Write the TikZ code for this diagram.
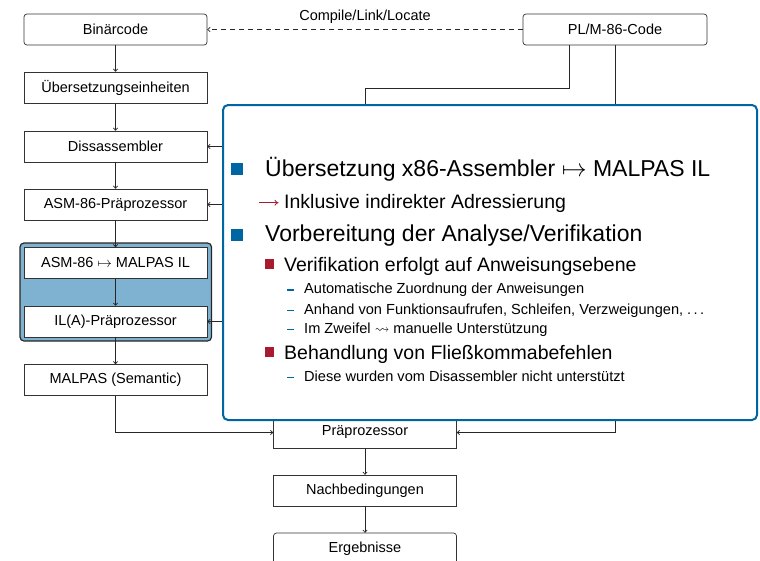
\documentclass[tikz,border=0pt]{standalone}
\usepackage{fontspec}
\setmainfont{Liberation Sans}
\usepackage{amssymb}
\usetikzlibrary{arrows.meta}
\definecolor{tublue}{RGB}{0,101,163}
\definecolor{tured}{RGB}{168,26,48}
\definecolor{grpfill}{RGB}{127,178,209}
\newcommand\fa{\fontsize{23}{27}\selectfont}
\newcommand\fb{\fontsize{19.5}{23}\selectfont}
\newcommand\fc{\fontsize{14.6}{18}\selectfont}
\tikzset{
  flow/.style={draw=black!80, line width=0.7pt, minimum width=183pt, minimum height=31pt,
    inner sep=0pt, font=\fontsize{14.5}{16}\selectfont, fill=white},
  flowr/.style={flow, rounded corners=3pt},
  conn/.style={draw=black!85, line width=0.7pt},
  arr/.style={conn, -{To[length=3pt,width=5pt]}},
  txt/.style={anchor=base west, inner sep=0pt},
  bluesq/.style={fill=tublue},
  redsq/.style={fill=tured},
}
\begin{document}
\begin{tikzpicture}[x=1pt,y=-1pt]
\useasboundingbox (0,0) rectangle (760,560);
\clip (0,0) rectangle (760,560);
% group
\draw[fill=grpfill, draw=black!85, line width=1.2pt, rounded corners=4pt] (20,243) rectangle (211.5,341);
% left column
\node[flowr] (bin)  at (115.5,29.5) {Binärcode};
\node[flow]  (ueb)  at (115.5,87.5) {Übersetzungseinheiten};
\node[flow]  (dis)  at (115.5,146.5) {Dissassembler};
\node[flow]  (asmp) at (115.5,204.5) {ASM-86-Präprozessor};
\node[flow]  (asmm) at (115.5,263) {ASM-86 $\mapsto$ MALPAS IL};
\node[flow]  (ila)  at (115.5,321.5) {IL(A)-Präprozessor};
\node[flow]  (mal)  at (115.5,380) {MALPAS (Semantic)};
% right / bottom
\node[flowr, minimum width=184pt] (plm) at (615,29.5) {PL/M-86-Code};
\node[flow]  (pre)  at (365,432.5) {Präprozessor};
\node[flow]  (nach) at (365,490.5) {Nachbedingungen};
\node[flowr] (erg)  at (365,548.5) {Ergebnisse};
% chain
\draw[arr] (bin) -- (ueb);
\draw[arr] (ueb) -- (dis);
\draw[arr] (dis) -- (asmp);
\draw[arr] (asmp) -- (asmm);
\draw[arr] (asmm) -- (ila);
\draw[arr] (ila) -- (mal);
\draw[arr] (mal.south) |- (pre.west);
\draw[arr] (pre) -- (nach);
\draw[arr] (nach) -- (erg);
% compile
\draw[arr, dash pattern=on 5pt off 4pt] (plm.west) -- (bin.east)
  node[midway, above=2pt, font=\fontsize{14.5}{16}\selectfont] (cll) {Compile/Link/Locate};
% PL/M branches
\coordinate (j1) at (569,88);
\coordinate (j2) at (365,88);
\coordinate (j3) at (365,321.5);
\draw[conn] (plm.south -| j1) -- (j1) -- (j2) -- (j3);
\draw[arr] (j2 |- dis) -- (dis.east);
\draw[arr] (j2 |- asmp) -- (asmp.east);
\draw[arr] (j3) -- (ila.east);
\draw[arr] (plm.south) |- (pre.east);
% info box
\draw[draw=tublue, line width=2pt, fill=white, rounded corners=5pt] (223,105) rectangle (757,420);
\fill[bluesq] (230.5,162.5) rectangle (242.5,175);
\node[txt, font=\fa] (t1) at (265,176) {Übersetzung x86-Assembler $\mapsto$ MALPAS IL};
\draw[tured, line width=0.8pt, -{To[length=4pt,width=6pt]}] (259,202.7) -- (278.5,202.7);
\node[txt, font=\fb] (t2) at (284,208) {Inklusive indirekter Adressierung};
\fill[bluesq] (230.5,228.5) rectangle (242.5,241);
\node[txt, font=\fa] (t3) at (265,241) {Vorbereitung der Analyse/Verifikation};
\fill[redsq] (265,259) rectangle (274.3,268.5);
\node[txt, font=\fb] (t4) at (284,271) {Verifikation erfolgt auf Anweisungsebene};
\fill[bluesq] (286.5,289.2) rectangle (293.5,290.8);
\node[txt, font=\fc] (t5) at (304,293.5) {Automatische Zuordnung der Anweisungen};
\fill[bluesq] (286.5,309.7) rectangle (293.5,311.3);
\node[txt, font=\fc] (t6) at (304,314) {Anhand von Funktionsaufrufen, Schleifen, Verzweigungen, .\,.\,.};
\fill[bluesq] (286.5,328.7) rectangle (293.5,330.3);
\node[txt, font=\fc] (t7) at (304,333) {Im Zweifel $\leadsto$ manuelle Unterstützung};
\fill[redsq] (265,347) rectangle (274.3,356.5);
\node[txt, font=\fb] (t8) at (284,359) {Behandlung von Fließkommabefehlen};
\fill[bluesq] (286.5,376.7) rectangle (293.5,378.3);
\node[txt, font=\fc] (t9) at (304,381) {Diese wurden vom Disassembler nicht unterstützt};
\end{tikzpicture}
\end{document}
